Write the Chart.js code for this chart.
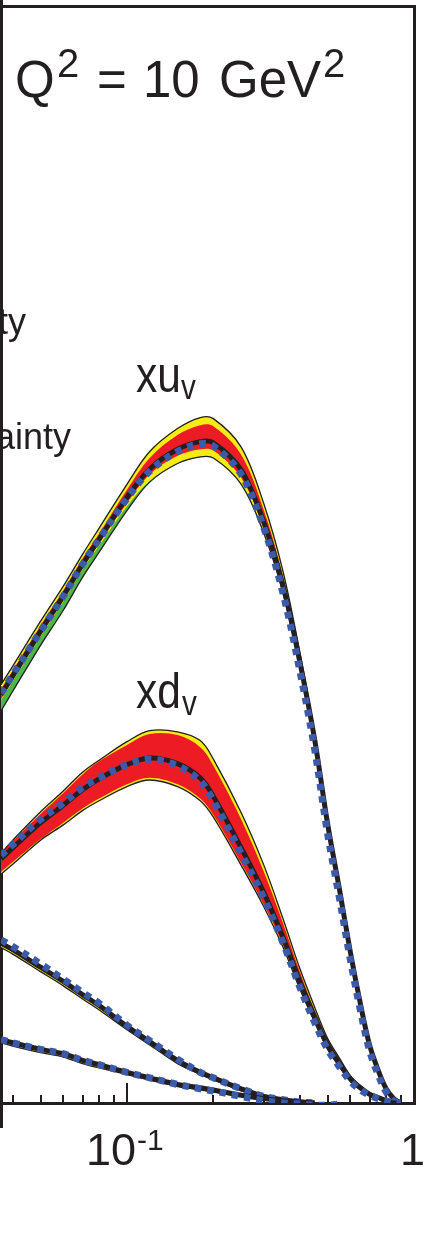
<!DOCTYPE html>
<html>
<head>
<meta charset="utf-8">
<script src="https://cdn.jsdelivr.net/npm/chart.js@4.4.1/dist/chart.umd.min.js"></script>
<style>
html, body { margin: 0; padding: 0; background: #fff; }
</style>
</head>
<body>
<canvas id="pdf-chart" width="429" height="1248"></canvas>
<script>
// x grid (log axis) shared by every curve
const xGrid = [0.0364, 0.04, 0.05, 0.06, 0.07, 0.08, 0.1, 0.12, 0.15, 0.18, 0.2, 0.25, 0.3, 0.35, 0.4, 0.45, 0.5, 0.55, 0.6, 0.65, 0.7, 0.75, 0.8, 0.85, 0.9];

// xu_v: central, alternative (dotted), uncertainties
const uvCen   = [0.373, 0.390, 0.431, 0.463, 0.492, 0.515, 0.553, 0.579, 0.597, 0.604, 0.603, 0.578, 0.530, 0.472, 0.403, 0.333, 0.255, 0.195, 0.138, 0.091, 0.053, 0.030, 0.013, 0.004, 0];
const uvAlt   = [0.374, 0.391, 0.431, 0.463, 0.492, 0.515, 0.552, 0.577, 0.595, 0.602, 0.600, 0.574, 0.525, 0.465, 0.395, 0.324, 0.246, 0.187, 0.131, 0.085, 0.048, 0.026, 0.010, 0.002, 0];
const uvTotUp = [0.009, 0.009, 0.009, 0.009, 0.009, 0.010, 0.012, 0.016, 0.019, 0.022, 0.022, 0.021, 0.017, 0.013, 0.009, 0.006, 0.005, 0.004, 0.003, 0.002, 0.002, 0.001, 0.001, 0, 0];
const uvTotDn = [0.015, 0.014, 0.013, 0.013, 0.012, 0.012, 0.012, 0.012, 0.013, 0.014, 0.014, 0.013, 0.010, 0.007, 0.005, 0.004, 0.003, 0.003, 0.002, 0.002, 0.001, 0.001, 0, 0, 0];
const uvModDn = [0.005, 0.005, 0.005, 0.005, 0.005, 0.006, 0.008, 0.011, 0.013, 0.014, 0.014, 0.013, 0.010, 0.007, 0.005, 0.004, 0.003, 0.003, 0.002, 0.002, 0.001, 0.001, 0, 0, 0];
const uvExpUp = [0.005, 0.005, 0.005, 0.005, 0.005, 0.005, 0.007, 0.010, 0.013, 0.015, 0.015, 0.014, 0.011, 0.008, 0.005, 0.004, 0.003, 0.002, 0.002, 0.001, 0.001, 0, 0, 0, 0];
const uvExpDn = [0.004, 0.004, 0.004, 0.004, 0.004, 0.004, 0.005, 0.005, 0.006, 0.007, 0.007, 0.007, 0.006, 0.005, 0.004, 0.003, 0.002, 0.002, 0.001, 0.001, 0.001, 0, 0, 0, 0];

// xd_v
const dvCen   = [0.223, 0.233, 0.256, 0.272, 0.286, 0.296, 0.309, 0.315, 0.310, 0.297, 0.280, 0.233, 0.192, 0.151, 0.111, 0.079, 0.053, 0.036, 0.022, 0.014, 0.008, 0.005, 0.002, 0, 0];
const dvAlt   = [0.226, 0.236, 0.259, 0.274, 0.288, 0.297, 0.309, 0.314, 0.308, 0.294, 0.276, 0.228, 0.187, 0.146, 0.106, 0.074, 0.049, 0.033, 0.020, 0.012, 0.007, 0.004, 0.002, 0, 0];
const dvTotUp = [0.005, 0.007, 0.010, 0.013, 0.016, 0.017, 0.021, 0.025, 0.029, 0.034, 0.034, 0.032, 0.025, 0.017, 0.012, 0.009, 0.006, 0.005, 0.003, 0.002, 0.001, 0.001, 0, 0, 0];
const dvTotDn = [0.014, 0.015, 0.016, 0.018, 0.019, 0.020, 0.020, 0.020, 0.021, 0.021, 0.019, 0.016, 0.013, 0.009, 0.007, 0.005, 0.004, 0.003, 0.002, 0.002, 0.001, 0.001, 0, 0, 0];
const dvExpUp = [0.005, 0.006, 0.008, 0.011, 0.014, 0.016, 0.018, 0.022, 0.026, 0.028, 0.028, 0.026, 0.019, 0.013, 0.009, 0.006, 0.005, 0.004, 0.002, 0.001, 0.001, 0.001, 0, 0, 0];
const dvExpDn = [0.012, 0.013, 0.015, 0.016, 0.017, 0.018, 0.018, 0.018, 0.019, 0.019, 0.017, 0.014, 0.011, 0.007, 0.005, 0.005, 0.003, 0.002, 0.001, 0.001, 0.001, 0, 0, 0, 0];

// xg x 0.05 and xS x 0.05
const gCen   = [0.146, 0.140, 0.124, 0.111, 0.099, 0.089, 0.070, 0.056, 0.039, 0.028, 0.023, 0.013, 0.006, 0.003, 0.001, 0, null, null, null, null, null, null, null, null, null];
const gAlt   = [0.149, 0.143, 0.127, 0.113, 0.101, 0.091, 0.071, 0.057, 0.040, 0.028, 0.023, 0.013, 0.006, 0.003, 0.001, 0, null, null, null, null, null, null, null, null, null];
const gErrDn = [0.004, 0.004, 0.004, 0.004, 0.004, 0.004, 0.003, 0.003, 0.003, 0.002, 0.002, 0.002, 0.001, 0.001, 0, 0, 0, 0, 0, 0, 0, 0, 0, 0, 0];
const sCen   = [0.058, 0.055, 0.049, 0.045, 0.039, 0.035, 0.028, 0.023, 0.017, 0.014, 0.012, 0.007, 0.004, 0.002, 0.001, 0, null, null, null, null, null, null, null, null, null];
const sAlt   = [0.058, 0.055, 0.049, 0.045, 0.039, 0.035, 0.028, 0.023, 0.017, 0.013, 0.011, 0.006, 0.002, 0.000, -0.001, -0.002, -0.002, -0.001, null, null, null, null, null, null, null];
const sErrDn = [0.003, 0.003, 0.003, 0.003, 0.003, 0.003, 0.002, 0.002, 0.002, 0.002, 0.002, 0.001, 0.001, 0, 0, 0, 0, 0, 0, 0, 0, 0, 0, 0, 0];

const minorTicks = [0.04, 0.05, 0.06, 0.07, 0.08, 0.09, 0.2, 0.3, 0.4, 0.5, 0.6, 0.7, 0.8, 0.9];
const majorTicks = [0.1];

const INK = '#231f20';
const RED = '#ed1c24', YELLOW = '#f6eb16', GREEN = '#4db748', BLUE = '#3b5baa';

const datasets = [];
const pts = ys => xGrid.map((x, i) => ({ x, y: ys[i] }));
const shift = (ys, d, s) => ys.map((v, i) => v == null ? null : v + s * d[i]);

function addLine(ys, opts) {
    datasets.push(Object.assign({
        data: pts(ys), pointRadius: 0, borderWidth: 0, borderColor: 'transparent',
        fill: false, tension: 0.35
    }, opts));
    return datasets.length - 1;
}
function addBand(hi, lo, color) {
    const lower = addLine(lo, {});
    addLine(hi, { fill: { target: lower }, backgroundColor: color });
}

const outline = { borderColor: INK, borderWidth: 1.3 };
const central = { borderColor: INK, borderWidth: 5 };
const dotted = { borderColor: BLUE, borderWidth: 7, borderDash: [6.5, 6], borderCapStyle: 'butt' };

function addPdf(cen, alt, hi, lo, layers) {
    layers.forEach(l => addBand(l[0], l[1], l[2]));
    addLine(hi, outline);
    addLine(lo, outline);
    addLine(cen, central);
    addLine(alt, dotted);
}

const uvHi = shift(uvCen, uvTotUp, 1), uvLo = shift(uvCen, uvTotDn, -1);
addPdf(uvCen, uvAlt, uvHi, uvLo, [
    [uvHi, uvLo, GREEN],
    [uvHi, shift(uvCen, uvModDn, -1), YELLOW],
    [shift(uvCen, uvExpUp, 1), shift(uvCen, uvExpDn, -1), RED]
]);

const dvHi = shift(dvCen, dvTotUp, 1), dvLo = shift(dvCen, dvTotDn, -1);
addPdf(dvCen, dvAlt, dvHi, dvLo, [
    [dvHi, dvLo, YELLOW],
    [shift(dvCen, dvExpUp, 1), shift(dvCen, dvExpDn, -1), RED]
]);

const gLo = shift(gCen, gErrDn, -1);
addPdf(gCen, gAlt, gCen, gLo, [[gCen, gLo, YELLOW]]);
const sLo = shift(sCen, sErrDn, -1);
addPdf(sCen, sAlt, sCen, sLo, [[sCen, sLo, YELLOW]]);

// later datasets on top
datasets.forEach((d, i) => { d.order = -i; });

const SANS = '"Liberation Sans", Arial, sans-serif';

function putText(ctx, parts) {
    parts.forEach(p => {
        ctx.font = p.size + 'px ' + SANS;
        ctx.fillText(p.t, p.x, p.y);
    });
}
// condensed label, like the original's narrow face
function narrowText(ctx, t, size, x, y) {
    ctx.save();
    ctx.translate(x, y);
    ctx.scale(0.85, 1);
    ctx.font = size + 'px ' + SANS;
    ctx.fillText(t, 0, 0);
    ctx.restore();
}

const framePlugin = {
    id: 'frame',
    beforeDatasetsDraw(chart) {
        const { ctx, chartArea: a, scales: { x } } = chart;
        ctx.save();
        ctx.strokeStyle = INK;
        ctx.lineWidth = 3;
        ctx.beginPath();
        ctx.moveTo(0, 6.5); ctx.lineTo(a.right + 2, 6.5);
        ctx.moveTo(a.right + 0.5, 5); ctx.lineTo(a.right + 0.5, a.bottom + 1.5);
        ctx.moveTo(0, a.bottom + 0.5); ctx.lineTo(a.right + 2, a.bottom + 0.5);
        ctx.moveTo(1.5, 0); ctx.lineTo(1.5, 1128);
        ctx.stroke();
        ctx.lineWidth = 2;
        ctx.beginPath();
        minorTicks.forEach(v => {
            const px = Math.round(x.getPixelForValue(v));
            ctx.moveTo(px, a.bottom); ctx.lineTo(px, a.bottom - 8);
        });
        majorTicks.forEach(v => {
            const px = Math.round(x.getPixelForValue(v));
            ctx.moveTo(px, a.bottom); ctx.lineTo(px, a.bottom - 20);
        });
        ctx.stroke();
        ctx.restore();
    },
    afterDraw(chart) {
        const { ctx, scales: { x } } = chart;
        ctx.save();
        ctx.fillStyle = INK;
        ctx.textBaseline = 'alphabetic';
        ctx.textAlign = 'left';

        // axis labels
        const p01 = x.getPixelForValue(0.1), p1 = x.getPixelForValue(1);
        putText(ctx, [
            { t: '10', size: 45, x: p01 - 41, y: 1165 },
            { t: '-1', size: 30, x: p01 + 10, y: 1150 },
            { t: '1', size: 45, x: p1 - 14, y: 1165 }
        ]);

        // title
        putText(ctx, [
            { t: 'Q', size: 51, x: 15, y: 97 },
            { t: '2', size: 40, x: 57, y: 77 },
            { t: '=', size: 51, x: 97, y: 97 },
            { t: '10', size: 51, x: 143, y: 97 },
            { t: 'GeV', size: 51, x: 219, y: 97 },
            { t: '2', size: 40, x: 323, y: 77 }
        ]);

        // legend tails (cut by the panel edge)
        ctx.textAlign = 'right';
        ctx.font = '36px ' + SANS;
        ctx.fillText('experimental uncertainty', 26, 334);
        ctx.fillText('model uncertainty', 71, 449);

        // curve labels
        ctx.textAlign = 'left';
        narrowText(ctx, 'xu', 50, 136, 392);
        narrowText(ctx, 'v', 35, 181, 399);
        narrowText(ctx, 'xd', 50, 136, 708);
        narrowText(ctx, 'v', 35, 182, 715);
        ctx.restore();
    }
};

new Chart(document.getElementById('pdf-chart'), {
    type: 'line',
    data: { datasets },
    options: {
        responsive: false,
        animation: false,
        events: [],
        layout: { padding: { left: 1, right: 15, top: 8, bottom: 145 } },
        plugins: { legend: { display: false }, tooltip: { enabled: false } },
        scales: {
            x: { type: 'logarithmic', min: 0.0364, max: 1, display: false },
            y: { type: 'linear', min: 0, max: 1, display: false }
        }
    },
    plugins: [framePlugin]
});
</script>
</body>
</html>
